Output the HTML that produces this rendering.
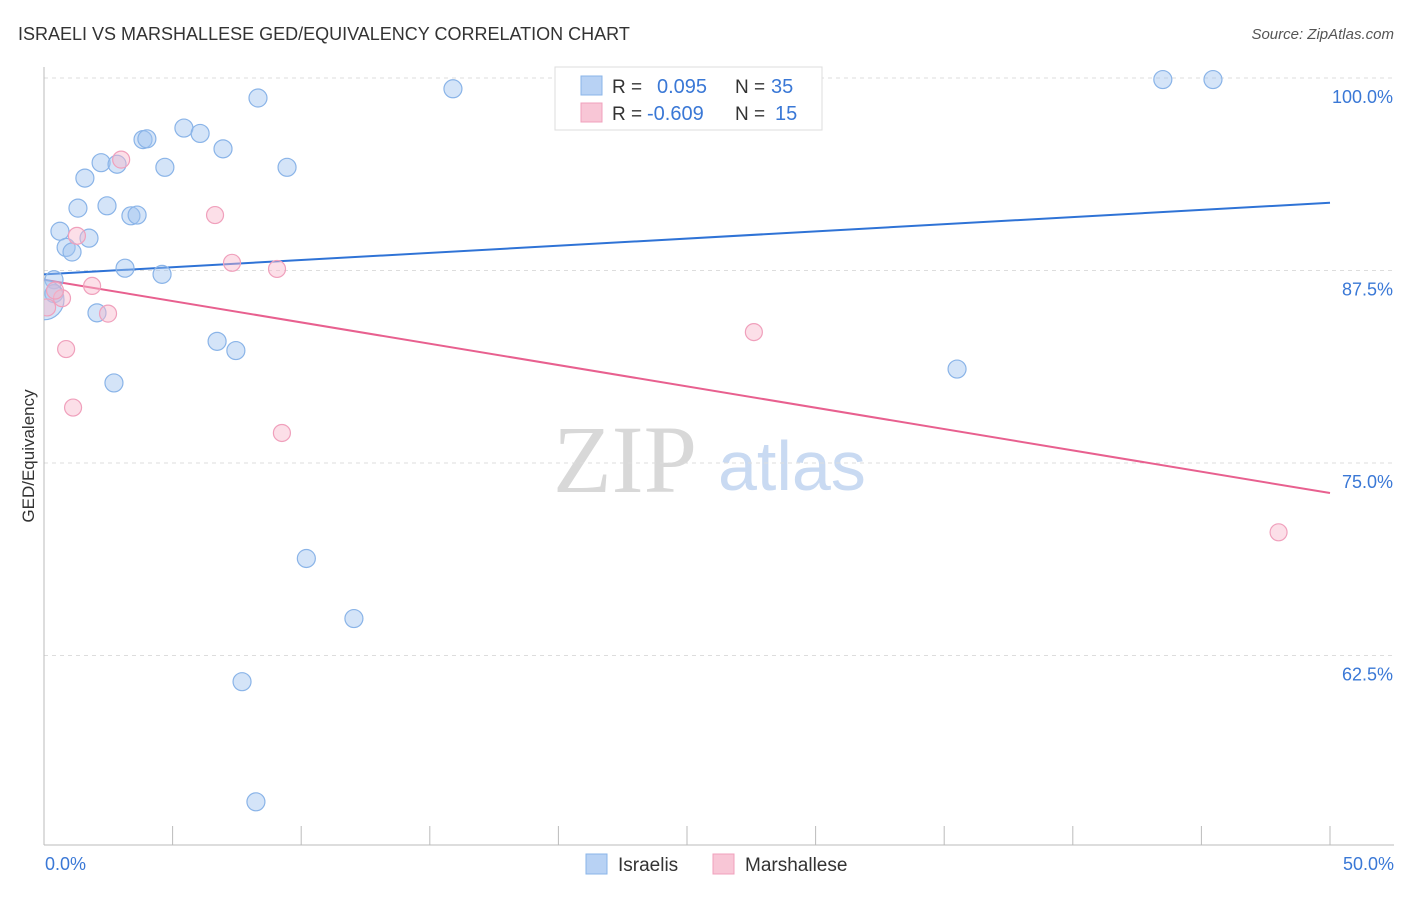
<!DOCTYPE html>
<html><head><meta charset="utf-8"><style>
body{margin:0;background:#fff;font-family:"Liberation Sans",sans-serif;}
svg text{font-family:"Liberation Sans",sans-serif;}
</style></head><body>
<svg id="chart" width="1406" height="892" xmlns="http://www.w3.org/2000/svg">
<defs><clipPath id="plotclip"><rect x="44" y="60" width="1360" height="785"/></clipPath></defs>
<text x="18" y="40" font-size="18" fill="#333">ISRAELI VS MARSHALLESE GED/EQUIVALENCY CORRELATION CHART</text>
<text x="1394" y="39" font-size="15" fill="#555" text-anchor="end" font-style="italic">Source: ZipAtlas.com</text>
<text x="34" y="456" font-size="17" fill="#333" text-anchor="middle" transform="rotate(-90 34 456)">GED/Equivalency</text>
<g>
<text x="553" y="492" font-size="96" fill="#d8d8d8" font-family="Liberation Serif,serif" style="font-family:'Liberation Serif',serif">ZIP</text>
<text x="718" y="490" font-size="70" fill="#c9daf2">atlas</text>
</g>
<g id="grid"></g><g id="axes"></g><g id="lines"></g><g id="points" clip-path="url(#plotclip)"></g>
<g>
<rect x="555" y="67" width="267" height="63" fill="#fff" stroke="#ddd"/>
<rect x="581" y="76" width="21" height="19" fill="#b8d2f4" stroke="#8ab4e8"/>
<rect x="581" y="103" width="21" height="19" fill="#f8c6d6" stroke="#f0a0bc"/>
<text x="612" y="93" font-size="19" fill="#333">R =</text><text x="657" y="93" font-size="20" fill="#3a78d6">0.095</text>
<text x="735" y="93" font-size="19" fill="#333">N =</text><text x="771" y="93" font-size="20" fill="#3a78d6">35</text>
<text x="612" y="120" font-size="19" fill="#333">R =</text><text x="647" y="120" font-size="20" fill="#3a78d6">-0.609</text>
<text x="735" y="120" font-size="19" fill="#333">N =</text><text x="775" y="120" font-size="20" fill="#3a78d6">15</text>
</g>
<g>
<rect x="586" y="854" width="21" height="20" fill="#b8d2f4" stroke="#8ab4e8"/>
<text x="618" y="871" font-size="19" fill="#333">Israelis</text>
<rect x="713" y="854" width="21" height="20" fill="#f8c6d6" stroke="#f0a0bc"/>
<text x="745" y="871" font-size="19" fill="#333">Marshallese</text>
</g>
</svg>
<script>
const yTicks=[100,87.5,75,62.5];
const yTickLabels=["100.0%","87.5%","75.0%","62.5%"];
const xTickCount=11;
const xLabels=["0.0%","50.0%"];
const israeliX=[43.5,45.45,15.9,8.32,5.44,6.07,3.85,4.0,6.96,2.22,2.84,4.7,9.45,1.59,1.32,2.45,3.38,3.62,0.62,1.75,0.86,1.09,3.15,4.59,0.39,0.39,2.06,0.0,6.73,7.46,2.72,35.5,10.2,12.05,7.7,8.24];
const israeliY=[99.9,99.9,99.3,98.7,96.75,96.4,96.0,96.05,95.4,94.5,94.4,94.2,94.2,93.5,91.55,91.7,91.05,91.1,90.05,89.6,89.0,88.7,87.65,87.25,86.9,86.0,84.75,85.6,82.9,82.3,80.2,81.1,68.8,64.9,60.8,53.0];
const marshX=[3.0,6.65,1.28,7.31,9.06,1.87,0.7,2.49,0.12,0.86,1.13,9.25,27.6,48.0,0.43];
const marshY=[94.7,91.1,89.75,88.0,87.6,86.5,85.7,84.7,85.1,82.4,78.6,76.95,83.5,70.5,86.2];
const israeliTrend=[87.25,91.9];
const marshTrend=[86.9,73.05];
const NS="http://www.w3.org/2000/svg";
function sx(v){return 44+v/50*1286;}
function sy(v){return 78+(100-v)*15.4;}
function mk(tag,attrs,parent){const e=document.createElementNS(NS,tag);for(const k in attrs)e.setAttribute(k,attrs[k]);document.getElementById(parent).appendChild(e);return e;}
yTicks.forEach((t,i)=>{
 const l=mk('line',{x1:44,x2:1394,y1:sy(t),y2:sy(t),stroke:'#ddd','stroke-dasharray':'4,4'},'grid');
 
 
 const tx=mk('text',{x:1393,y:sy(t)+25,'font-size':18,fill:'#3a78d6','text-anchor':'end'},'grid');
 tx.textContent=yTickLabels[i];
 
 
});
const ax=mk('line',{x1:44,x2:1394,y1:845,y2:845,stroke:'#bbb'},'axes');


const ay=mk('line',{x1:44,x2:44,y1:67,y2:845,stroke:'#bbb'},'axes');


for(let i=0;i<xTickCount;i++){
 const v=i*50/(xTickCount-1);
 const t=mk('line',{x1:sx(v),x2:sx(v),y1:826,y2:845,stroke:'#bbb'},'axes');
 
 
}
[[0,'start',45],[50,'end',1394]].forEach((d,i)=>{
 const t=mk('text',{x:d[2],y:870,'font-size':18,fill:'#3a78d6','text-anchor':d[1]},'axes');
 t.textContent=xLabels[i];
 
 
});
const bl=mk('line',{x1:sx(0),x2:sx(50),y1:sy(israeliTrend[0]),y2:sy(israeliTrend[1]),stroke:'#2f73d6','stroke-width':2},'lines');


const pl=mk('line',{x1:sx(0),x2:sx(50),y1:sy(marshTrend[0]),y2:sy(marshTrend[1]),stroke:'#e8608f','stroke-width':2},'lines');


israeliX.forEach((x,i)=>{
 const c=mk('circle',{cx:sx(x),cy:sy(israeliY[i]),r:(x===0?20:9),fill:'rgba(160,195,240,0.45)',stroke:'#8ab4e8','stroke-width':1.2},'points');
 
 
});
marshX.forEach((x,i)=>{
 const c=mk('circle',{cx:sx(x),cy:sy(marshY[i]),r:8.5,fill:'rgba(248,185,205,0.45)',stroke:'#f0a0bc','stroke-width':1.2},'points');
 
 
});
</script>
</body></html>
